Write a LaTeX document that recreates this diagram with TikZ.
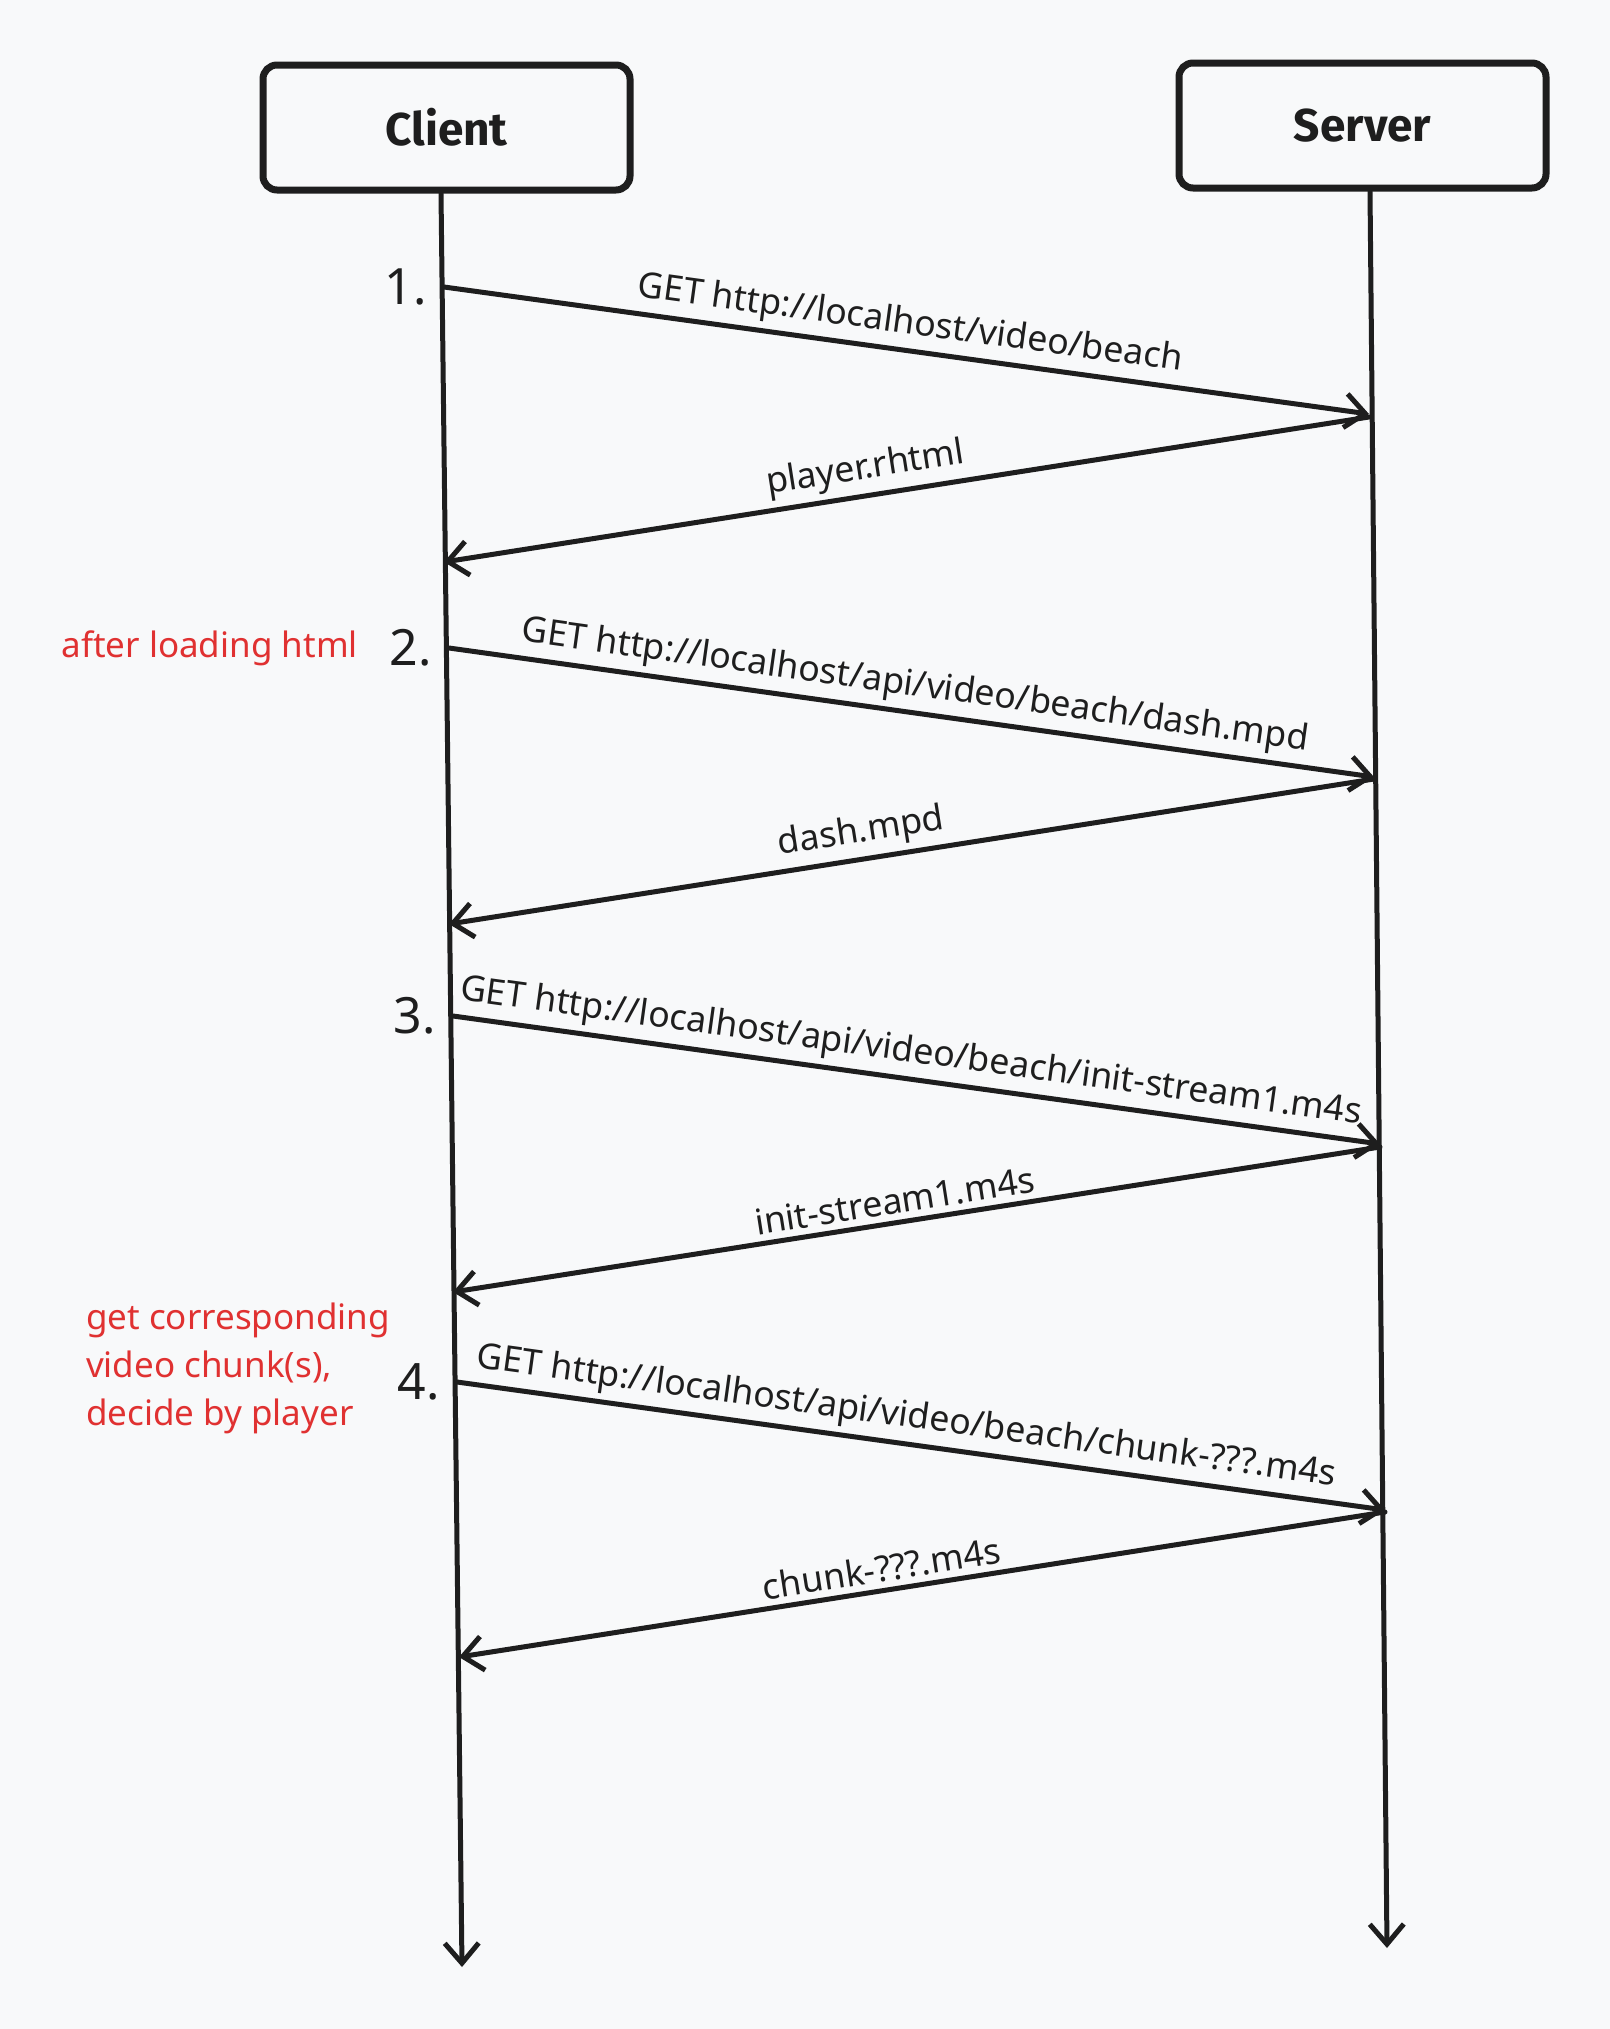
\documentclass[tikz,border=0pt]{standalone}
\usepackage{fontspec}
\setmainfont{Noto Sans}
\newfontfamily\handfont{Fira Sans}
\usetikzlibrary{arrows.meta, positioning, calc}
\definecolor{mydark}{RGB}{30,30,30}
\definecolor{myred}{RGB}{224,49,49}
\definecolor{mybg}{RGB}{248,249,250}
\tikzset{
  actor/.style={rectangle, draw=mydark, fill=mybg,
    minimum width=183.5pt, minimum height=62.5pt,
    font=\handfont\bfseries\fontsize{23}{27}\selectfont, text=mydark,
    rounded corners=7pt, line width=3.5pt},
  lifeline/.style={-{Straight Barb[length=10pt, width=17pt]}, line width=2.5pt,
    color=mydark, line cap=round},
  msg/.style={-{Straight Barb[length=10pt, width=17pt]}, line width=2.5pt,
    color=mydark, line cap=round},
  msglabel/.style={font=\fontsize{17.8}{21}\selectfont, text=mydark,
    sloped, above, inner sep=3pt},
  stepnum/.style={font=\fontsize{25}{30}\selectfont, text=mydark},
  note/.style={font=\fontsize{17.5}{24}\selectfont, text=myred, align=left}
}

\begin{document}
\begin{tikzpicture}[x=0.5pt, y=-0.5pt]
  \fill[mybg] (0,0) rectangle (1610,2029);
  \useasboundingbox (0,0) rectangle (1610,2029);

  \node[actor] (client) at (446.5,127.5) {Client};
  \node[actor] (server) at (1362.5,125.5) {Server};
  \coordinate (ctop) at ($(client.south)+(-5.5,0)$);
  \coordinate (stop) at ($(server.south)+(7.5,0)$);
  \coordinate (cend) at (462,1967);
  \coordinate (send) at (1387,1948);

  \draw[lifeline] (ctop) -- (cend);
  \draw[lifeline] (stop) -- (send);

  \coordinate (c1) at (444,287);  \coordinate (s1) at (1369,414);
  \coordinate (s2) at (1369,417); \coordinate (c2) at (444,562);
  \coordinate (c3) at (449,648);  \coordinate (s3) at (1374,777);
  \coordinate (s4) at (1374,779); \coordinate (c4) at (449,924);
  \coordinate (c5) at (453,1016); \coordinate (s5) at (1380,1144);
  \coordinate (s6) at (1380,1147); \coordinate (c6) at (453,1292);
  \coordinate (c7) at (457,1382); \coordinate (s7) at (1385,1510);
  \coordinate (s8) at (1385,1512); \coordinate (c8) at (459,1657);

  \draw[msg] (c1) -- node[msglabel] {GET http://localhost/video/beach} (s1);
  \draw[msg] (s2) -- node[msglabel, pos=0.54] {player.rhtml} (c2);
  \draw[msg] (c3) -- node[msglabel] {GET http://localhost/api/video/beach/dash.mpd} (s3);
  \draw[msg] (s4) -- node[msglabel, pos=0.55] {dash.mpd} (c4);
  \draw[msg] (c5) -- node[msglabel, pos=0.49] {GET http://localhost/api/video/beach/init-stream1.m4s} (s5);
  \draw[msg] (s6) -- node[msglabel, pos=0.52] {init-stream1.m4s} (c6);
  \draw[msg] (c7) -- node[msglabel, pos=0.48] {GET http://localhost/api/video/beach/chunk-???.m4s} (s7);
  \draw[msg] (s8) -- node[msglabel, pos=0.54] {chunk-???.m4s} (c8);

  \node[stepnum, left=5pt of c1] (num1) {1.};
  \node[stepnum, left=5pt of c3] (num2) {2.};
  \node[stepnum, left=5pt of c5] (num3) {3.};
  \node[stepnum, left=5pt of c7] (num4) {4.};

  \node[note, left=9pt of num2] (note1) {after loading html};
  \node[note, left=-3pt of num4, yshift=7pt] (note2) {get corresponding\\video chunk(s),\\decide by player};
\end{tikzpicture}
\end{document}
